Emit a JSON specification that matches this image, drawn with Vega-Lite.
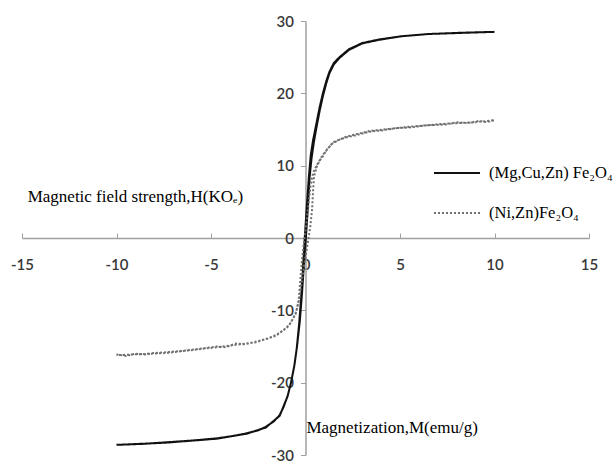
{
  "$schema": "https://vega.github.io/schema/vega-lite/v6.json",
  "width": 567,
  "height": 434,
  "autosize": {"type": "none"},
  "padding": {"left": 22, "top": 21, "right": 24, "bottom": 8},
  "background": "white",
  "config": {"view": {"stroke": null}, "font": "Lato"},
  "layer": [
    {
      "data": {"values": [
        {"s":"(Mg,Cu,Zn) Fe₂O₄","i":1,"H":-10,"M":-28.6},
        {"s":"(Mg,Cu,Zn) Fe₂O₄","i":2,"H":-8.5,"M":-28.45},
        {"s":"(Mg,Cu,Zn) Fe₂O₄","i":3,"H":-7.4,"M":-28.25},
        {"s":"(Mg,Cu,Zn) Fe₂O₄","i":4,"H":-6,"M":-28.0},
        {"s":"(Mg,Cu,Zn) Fe₂O₄","i":5,"H":-4.7,"M":-27.7},
        {"s":"(Mg,Cu,Zn) Fe₂O₄","i":6,"H":-3.9,"M":-27.4},
        {"s":"(Mg,Cu,Zn) Fe₂O₄","i":7,"H":-3.1,"M":-27.0},
        {"s":"(Mg,Cu,Zn) Fe₂O₄","i":8,"H":-2.5,"M":-26.6},
        {"s":"(Mg,Cu,Zn) Fe₂O₄","i":9,"H":-2.1,"M":-26.1},
        {"s":"(Mg,Cu,Zn) Fe₂O₄","i":10,"H":-1.7,"M":-25.4},
        {"s":"(Mg,Cu,Zn) Fe₂O₄","i":11,"H":-1.37,"M":-24.5},
        {"s":"(Mg,Cu,Zn) Fe₂O₄","i":12,"H":-1.15,"M":-23.3},
        {"s":"(Mg,Cu,Zn) Fe₂O₄","i":13,"H":-0.93,"M":-21.7},
        {"s":"(Mg,Cu,Zn) Fe₂O₄","i":14,"H":-0.75,"M":-19.8},
        {"s":"(Mg,Cu,Zn) Fe₂O₄","i":15,"H":-0.58,"M":-17.5},
        {"s":"(Mg,Cu,Zn) Fe₂O₄","i":16,"H":-0.45,"M":-15.0},
        {"s":"(Mg,Cu,Zn) Fe₂O₄","i":17,"H":-0.3,"M":-11.5},
        {"s":"(Mg,Cu,Zn) Fe₂O₄","i":18,"H":-0.18,"M":-7.5},
        {"s":"(Mg,Cu,Zn) Fe₂O₄","i":19,"H":-0.08,"M":-3.5},
        {"s":"(Mg,Cu,Zn) Fe₂O₄","i":20,"H":0.02,"M":0},
        {"s":"(Mg,Cu,Zn) Fe₂O₄","i":21,"H":0.12,"M":4},
        {"s":"(Mg,Cu,Zn) Fe₂O₄","i":22,"H":0.22,"M":8.5},
        {"s":"(Mg,Cu,Zn) Fe₂O₄","i":23,"H":0.32,"M":11.0},
        {"s":"(Mg,Cu,Zn) Fe₂O₄","i":24,"H":0.44,"M":13.2},
        {"s":"(Mg,Cu,Zn) Fe₂O₄","i":25,"H":0.56,"M":15.0},
        {"s":"(Mg,Cu,Zn) Fe₂O₄","i":26,"H":0.75,"M":17.6},
        {"s":"(Mg,Cu,Zn) Fe₂O₄","i":27,"H":0.92,"M":19.6},
        {"s":"(Mg,Cu,Zn) Fe₂O₄","i":28,"H":1.1,"M":21.4},
        {"s":"(Mg,Cu,Zn) Fe₂O₄","i":29,"H":1.27,"M":22.8},
        {"s":"(Mg,Cu,Zn) Fe₂O₄","i":30,"H":1.5,"M":24.0},
        {"s":"(Mg,Cu,Zn) Fe₂O₄","i":31,"H":1.8,"M":24.9},
        {"s":"(Mg,Cu,Zn) Fe₂O₄","i":32,"H":2.3,"M":26.0},
        {"s":"(Mg,Cu,Zn) Fe₂O₄","i":33,"H":3.0,"M":26.9},
        {"s":"(Mg,Cu,Zn) Fe₂O₄","i":34,"H":3.9,"M":27.4},
        {"s":"(Mg,Cu,Zn) Fe₂O₄","i":35,"H":5.1,"M":27.9},
        {"s":"(Mg,Cu,Zn) Fe₂O₄","i":36,"H":6.5,"M":28.2},
        {"s":"(Mg,Cu,Zn) Fe₂O₄","i":37,"H":8.3,"M":28.38},
        {"s":"(Mg,Cu,Zn) Fe₂O₄","i":38,"H":10,"M":28.5},
        {"s":"(Mg,Cu,Zn) Fe₂O₄","i":39,"H":8.3,"M":28.36},
        {"s":"(Mg,Cu,Zn) Fe₂O₄","i":40,"H":6.5,"M":28.2},
        {"s":"(Mg,Cu,Zn) Fe₂O₄","i":41,"H":5.1,"M":27.9},
        {"s":"(Mg,Cu,Zn) Fe₂O₄","i":42,"H":3.9,"M":27.45},
        {"s":"(Mg,Cu,Zn) Fe₂O₄","i":43,"H":3.0,"M":26.95},
        {"s":"(Mg,Cu,Zn) Fe₂O₄","i":44,"H":2.3,"M":26.1},
        {"s":"(Mg,Cu,Zn) Fe₂O₄","i":45,"H":1.8,"M":25.0},
        {"s":"(Mg,Cu,Zn) Fe₂O₄","i":46,"H":1.5,"M":24.2},
        {"s":"(Mg,Cu,Zn) Fe₂O₄","i":47,"H":1.27,"M":23.0},
        {"s":"(Mg,Cu,Zn) Fe₂O₄","i":48,"H":1.1,"M":21.7},
        {"s":"(Mg,Cu,Zn) Fe₂O₄","i":49,"H":0.92,"M":20.0},
        {"s":"(Mg,Cu,Zn) Fe₂O₄","i":50,"H":0.75,"M":18.1},
        {"s":"(Mg,Cu,Zn) Fe₂O₄","i":51,"H":0.56,"M":15.6},
        {"s":"(Mg,Cu,Zn) Fe₂O₄","i":52,"H":0.4,"M":13.5},
        {"s":"(Mg,Cu,Zn) Fe₂O₄","i":53,"H":0.28,"M":11.5},
        {"s":"(Mg,Cu,Zn) Fe₂O₄","i":54,"H":0.18,"M":8.5},
        {"s":"(Mg,Cu,Zn) Fe₂O₄","i":55,"H":0.06,"M":4},
        {"s":"(Mg,Cu,Zn) Fe₂O₄","i":56,"H":-0.04,"M":0},
        {"s":"(Mg,Cu,Zn) Fe₂O₄","i":57,"H":-0.14,"M":-4.6},
        {"s":"(Mg,Cu,Zn) Fe₂O₄","i":58,"H":-0.24,"M":-8.5},
        {"s":"(Mg,Cu,Zn) Fe₂O₄","i":59,"H":-0.34,"M":-12.0},
        {"s":"(Mg,Cu,Zn) Fe₂O₄","i":60,"H":-0.47,"M":-15.4},
        {"s":"(Mg,Cu,Zn) Fe₂O₄","i":61,"H":-0.6,"M":-17.8},
        {"s":"(Mg,Cu,Zn) Fe₂O₄","i":62,"H":-0.77,"M":-20.0},
        {"s":"(Mg,Cu,Zn) Fe₂O₄","i":63,"H":-0.95,"M":-21.9},
        {"s":"(Mg,Cu,Zn) Fe₂O₄","i":64,"H":-1.37,"M":-24.6},
        {"s":"(Mg,Cu,Zn) Fe₂O₄","i":65,"H":-2.1,"M":-26.2},
        {"s":"(Mg,Cu,Zn) Fe₂O₄","i":66,"H":-3.1,"M":-27.05},
        {"s":"(Mg,Cu,Zn) Fe₂O₄","i":67,"H":-4.7,"M":-27.75},
        {"s":"(Mg,Cu,Zn) Fe₂O₄","i":68,"H":-7.4,"M":-28.3},
        {"s":"(Mg,Cu,Zn) Fe₂O₄","i":69,"H":-10,"M":-28.6},

        {"s":"(Ni,Zn)Fe₂O₄","i":1,"H":-10,"M":-16.1},
        {"s":"(Ni,Zn)Fe₂O₄","i":2,"H":-9.5,"M":-16.3},
        {"s":"(Ni,Zn)Fe₂O₄","i":3,"H":-9,"M":-16.0},
        {"s":"(Ni,Zn)Fe₂O₄","i":4,"H":-8.5,"M":-16.1},
        {"s":"(Ni,Zn)Fe₂O₄","i":5,"H":-8,"M":-15.9},
        {"s":"(Ni,Zn)Fe₂O₄","i":6,"H":-7.4,"M":-15.8},
        {"s":"(Ni,Zn)Fe₂O₄","i":7,"H":-6.5,"M":-15.6},
        {"s":"(Ni,Zn)Fe₂O₄","i":8,"H":-5.6,"M":-15.3},
        {"s":"(Ni,Zn)Fe₂O₄","i":9,"H":-4.7,"M":-15.0},
        {"s":"(Ni,Zn)Fe₂O₄","i":10,"H":-4.2,"M":-15.1},
        {"s":"(Ni,Zn)Fe₂O₄","i":11,"H":-3.7,"M":-14.6},
        {"s":"(Ni,Zn)Fe₂O₄","i":12,"H":-3.2,"M":-14.7},
        {"s":"(Ni,Zn)Fe₂O₄","i":13,"H":-2.6,"M":-14.3},
        {"s":"(Ni,Zn)Fe₂O₄","i":14,"H":-2.0,"M":-13.9},
        {"s":"(Ni,Zn)Fe₂O₄","i":15,"H":-1.55,"M":-13.4},
        {"s":"(Ni,Zn)Fe₂O₄","i":16,"H":-1.2,"M":-12.8},
        {"s":"(Ni,Zn)Fe₂O₄","i":17,"H":-0.85,"M":-12.0},
        {"s":"(Ni,Zn)Fe₂O₄","i":18,"H":-0.65,"M":-11.1},
        {"s":"(Ni,Zn)Fe₂O₄","i":19,"H":-0.49,"M":-10.2},
        {"s":"(Ni,Zn)Fe₂O₄","i":20,"H":-0.32,"M":-8.3},
        {"s":"(Ni,Zn)Fe₂O₄","i":21,"H":-0.2,"M":-6.0},
        {"s":"(Ni,Zn)Fe₂O₄","i":22,"H":-0.05,"M":-3.5},
        {"s":"(Ni,Zn)Fe₂O₄","i":23,"H":0.1,"M":-1.0},
        {"s":"(Ni,Zn)Fe₂O₄","i":24,"H":0.25,"M":1.5},
        {"s":"(Ni,Zn)Fe₂O₄","i":25,"H":0.35,"M":4.0},
        {"s":"(Ni,Zn)Fe₂O₄","i":26,"H":0.4,"M":6.5},
        {"s":"(Ni,Zn)Fe₂O₄","i":27,"H":0.45,"M":8.5},
        {"s":"(Ni,Zn)Fe₂O₄","i":28,"H":0.6,"M":9.9},
        {"s":"(Ni,Zn)Fe₂O₄","i":29,"H":0.75,"M":10.7},
        {"s":"(Ni,Zn)Fe₂O₄","i":30,"H":0.92,"M":11.3},
        {"s":"(Ni,Zn)Fe₂O₄","i":31,"H":1.15,"M":12.3},
        {"s":"(Ni,Zn)Fe₂O₄","i":32,"H":1.44,"M":13.1},
        {"s":"(Ni,Zn)Fe₂O₄","i":33,"H":1.8,"M":13.6},
        {"s":"(Ni,Zn)Fe₂O₄","i":34,"H":2.15,"M":13.9},
        {"s":"(Ni,Zn)Fe₂O₄","i":35,"H":2.8,"M":14.3},
        {"s":"(Ni,Zn)Fe₂O₄","i":36,"H":3.4,"M":14.7},
        {"s":"(Ni,Zn)Fe₂O₄","i":37,"H":4.1,"M":14.9},
        {"s":"(Ni,Zn)Fe₂O₄","i":38,"H":4.8,"M":15.2},
        {"s":"(Ni,Zn)Fe₂O₄","i":39,"H":5.6,"M":15.3},
        {"s":"(Ni,Zn)Fe₂O₄","i":40,"H":6.5,"M":15.6},
        {"s":"(Ni,Zn)Fe₂O₄","i":41,"H":7.4,"M":15.7},
        {"s":"(Ni,Zn)Fe₂O₄","i":42,"H":8.0,"M":16.0},
        {"s":"(Ni,Zn)Fe₂O₄","i":43,"H":8.6,"M":15.9},
        {"s":"(Ni,Zn)Fe₂O₄","i":44,"H":9.2,"M":16.2},
        {"s":"(Ni,Zn)Fe₂O₄","i":45,"H":9.6,"M":16.0},
        {"s":"(Ni,Zn)Fe₂O₄","i":46,"H":10,"M":16.3},
        {"s":"(Ni,Zn)Fe₂O₄","i":47,"H":9.0,"M":16.0},
        {"s":"(Ni,Zn)Fe₂O₄","i":48,"H":7.4,"M":15.8},
        {"s":"(Ni,Zn)Fe₂O₄","i":49,"H":5.6,"M":15.4},
        {"s":"(Ni,Zn)Fe₂O₄","i":50,"H":3.4,"M":14.8},
        {"s":"(Ni,Zn)Fe₂O₄","i":51,"H":2.15,"M":14.0},
        {"s":"(Ni,Zn)Fe₂O₄","i":52,"H":1.44,"M":13.2},
        {"s":"(Ni,Zn)Fe₂O₄","i":53,"H":0.92,"M":11.5},
        {"s":"(Ni,Zn)Fe₂O₄","i":54,"H":0.6,"M":10.1},
        {"s":"(Ni,Zn)Fe₂O₄","i":55,"H":0.4,"M":9.0},
        {"s":"(Ni,Zn)Fe₂O₄","i":56,"H":0.28,"M":7.5},
        {"s":"(Ni,Zn)Fe₂O₄","i":57,"H":0.15,"M":4.5},
        {"s":"(Ni,Zn)Fe₂O₄","i":58,"H":0.02,"M":1.5},
        {"s":"(Ni,Zn)Fe₂O₄","i":59,"H":-0.1,"M":-1.0},
        {"s":"(Ni,Zn)Fe₂O₄","i":60,"H":-0.2,"M":-3.5},
        {"s":"(Ni,Zn)Fe₂O₄","i":61,"H":-0.28,"M":-6.0},
        {"s":"(Ni,Zn)Fe₂O₄","i":62,"H":-0.36,"M":-8.6},
        {"s":"(Ni,Zn)Fe₂O₄","i":63,"H":-0.52,"M":-10.5},
        {"s":"(Ni,Zn)Fe₂O₄","i":64,"H":-0.9,"M":-12.2},
        {"s":"(Ni,Zn)Fe₂O₄","i":65,"H":-1.55,"M":-13.5},
        {"s":"(Ni,Zn)Fe₂O₄","i":66,"H":-2.6,"M":-14.4},
        {"s":"(Ni,Zn)Fe₂O₄","i":67,"H":-4.7,"M":-15.1},
        {"s":"(Ni,Zn)Fe₂O₄","i":68,"H":-7.4,"M":-15.9},
        {"s":"(Ni,Zn)Fe₂O₄","i":69,"H":-10,"M":-16.2}
      ]},
      "mark": {"type": "line", "interpolate": "linear"},
      "encoding": {
        "x": {
          "field": "H", "type": "quantitative",
          "scale": {"domain": [-15, 15], "nice": false, "zero": false},
          "axis": {
            "orient": "bottom", "offset": -217, "title": null, "grid": false,
            "values": [-15, -10, -5, 0, 5, 10, 15],
            "labelExpr": "datum.value < 0 ? '-' + abs(datum.value) : '' + datum.value",
            "domainColor": "#a0a0a0", "domainWidth": 1.5,
            "tickColor": "#a0a0a0", "tickSize": -5, "tickWidth": 1,
            "labelPadding": 24, "labelFont": "Lato", "labelFontSize": 15, "labelFontWeight": 600,
            "labelColor": "#383838", "labelFlush": false
          }
        },
        "y": {
          "field": "M", "type": "quantitative",
          "scale": {"domain": [-30, 30], "nice": false, "zero": false},
          "axis": {
            "orient": "left", "offset": -283.5, "title": null, "grid": false,
            "values": [-30, -20, -10, 0, 10, 20, 30],
            "labelExpr": "datum.value < 0 ? '-' + abs(datum.value) : '' + datum.value",
            "domainColor": "#a0a0a0", "domainWidth": 1.5,
            "tickColor": "#a0a0a0", "tickSize": 5, "tickWidth": 1,
            "labelPadding": 7, "labelFont": "Lato", "labelFontSize": 15, "labelFontWeight": 600,
            "labelColor": "#383838", "labelFlush": false
          }
        },
        "order": {"field": "i", "type": "quantitative"},
        "color": {
          "field": "s", "type": "nominal",
          "scale": {"domain": ["(Mg,Cu,Zn) Fe₂O₄", "(Ni,Zn)Fe₂O₄"], "range": ["#111111", "#707070"]},
          "legend": {
            "title": null, "orient": "none", "legendX": 411, "legendY": 128,
            "symbolType": "stroke", "symbolSize": 2116, "symbolStrokeWidth": 2,
            "labelFont": "Liberation Serif", "labelFontSize": 16.5, "labelColor": "#000000",
            "labelOffset": 8, "padding": 0, "rowPadding": 7
          }
        },
        "strokeDash": {
          "field": "s", "type": "nominal",
          "scale": {"domain": ["(Mg,Cu,Zn) Fe₂O₄", "(Ni,Zn)Fe₂O₄"], "range": [[1, 0], [2, 2]]},
          "legend": {
            "title": null, "orient": "none", "legendX": 411, "legendY": 128,
            "symbolType": "stroke", "symbolSize": 2116, "symbolStrokeWidth": 2,
            "labelFont": "Liberation Serif", "labelFontSize": 16.5, "labelColor": "#000000",
            "labelOffset": 8, "padding": 0, "rowPadding": 7
          }
        },
        "strokeWidth": {"value": 2}
      }
    },
    {
      "data": {"values": [
        {"label": "Magnetic field strength,H(KOₑ)", "H": -14.7, "M": 5.6},
        {"label": "Magnetization,M(emu/g)", "H": 0.05, "M": -26.2}
      ]},
      "mark": {"type": "text", "align": "left", "baseline": "middle", "font": "Liberation Serif", "fontSize": 17, "color": "#000000"},
      "encoding": {
        "x": {"field": "H", "type": "quantitative"},
        "y": {"field": "M", "type": "quantitative"},
        "text": {"field": "label"}
      }
    }
  ]
}
